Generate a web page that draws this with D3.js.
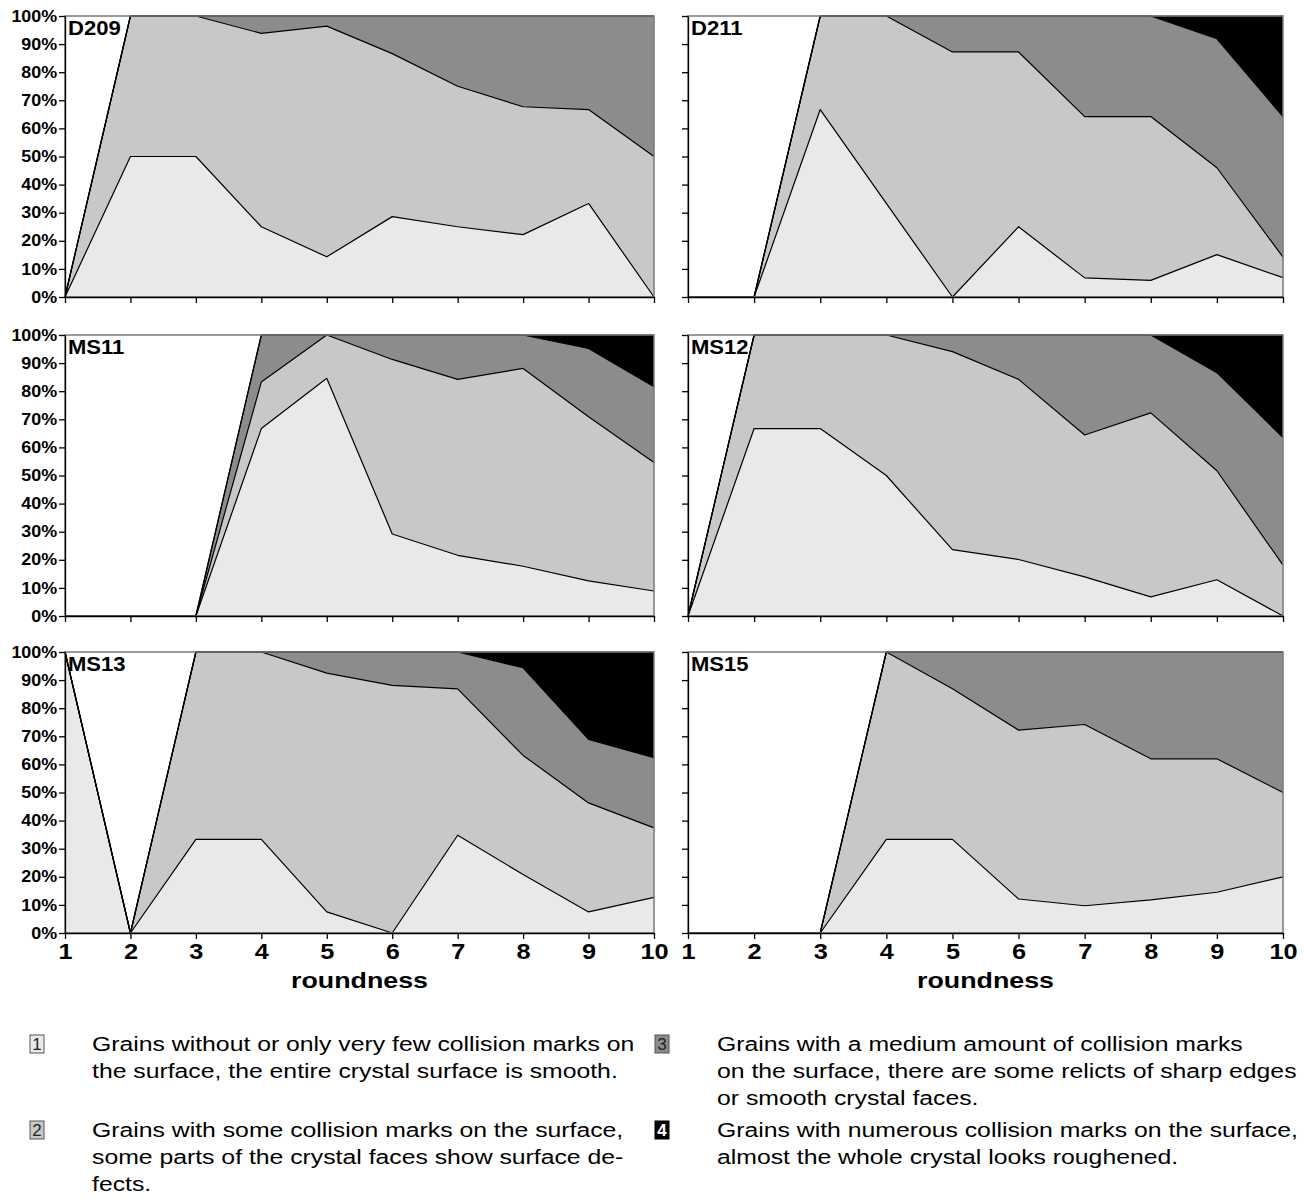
<html>
<head>
<script src="https://cdn.jsdelivr.net/npm/d3@7"></script>
<style>
  body{margin:0;background:#fff;}
  svg{display:block;font-family:"Liberation Sans",Arial,sans-serif;}
  .axis path,.axis line{stroke:#000;stroke-width:1.3;}
  .axis text{fill:#000;font-weight:bold;font-family:"Liberation Sans",Arial,sans-serif;}
  .ylab text{font-size:16px;}
  .xlab text{font-size:22px;}
  .tline{fill:none;stroke:#000;stroke-width:1.2;stroke-linejoin:round;}
  .legend text{font-size:21px;}
</style>
</head>
<body>
<svg id="chart" width="1304" height="1203"></svg>
<script>

// roundness classes on the x axis, percent ticks on the y axis
var roundness = [1, 2, 3, 4, 5, 6, 7, 8, 9, 10];
var yTicks = [0, 10, 20, 30, 40, 50, 60, 70, 80, 90, 100];
var classKeys = ["c1", "c2", "c3", "c4"];
var classColors = ["#e9e9e9", "#c7c8c7", "#8c8c8c", "#000000"];
var sampleNames = ["D209", "D211", "MS11", "MS12", "MS13", "MS15"];

// percentages of grains per surface class (1..4) at each roundness
var d209 = [
  [0, 50, 50, 25, 14.3, 28.6, 25, 22.2, 33.3, 0],
  [0, 50, 50, 68.8, 82.1, 58.0, 50, 45.5, 33.4, 50],
  [0, 0, 0, 6.2, 3.6, 13.4, 25, 32.3, 33.3, 50],
  [0, 0, 0, 0, 0, 0, 0, 0, 0, 0]
];
var d211 = [
  [0, 0, 66.7, 33.3, 0, 25, 6.8, 5.9, 15.1, 6.9],
  [0, 0, 33.3, 66.7, 87.2, 62.2, 57.4, 58.3, 30.9, 7.3],
  [0, 0, 0, 0, 12.8, 12.8, 35.8, 35.8, 45.9, 50],
  [0, 0, 0, 0, 0, 0, 0, 0, 8.1, 35.8]
];
var ms11 = [
  [0, 0, 0, 66.7, 84.6, 29.2, 21.6, 17.7, 12.5, 8.9],
  [0, 0, 0, 16.6, 15.4, 62.1, 62.6, 70.4, 58.4, 45.7],
  [0, 0, 0, 16.7, 0, 8.7, 15.8, 11.9, 24.3, 27],
  [0, 0, 0, 0, 0, 0, 0, 0, 4.8, 18.4]
];
var ms12 = [
  [0, 66.7, 66.7, 50, 23.6, 20.1, 13.9, 6.8, 12.9, 0],
  [0, 33.3, 33.3, 50, 70.5, 64.1, 50.5, 65.5, 38.8, 18.1],
  [0, 0, 0, 0, 5.9, 15.8, 35.6, 27.7, 34.9, 45.4],
  [0, 0, 0, 0, 0, 0, 0, 0, 13.4, 36.5]
];
var ms13 = [
  [100, 0, 33.3, 33.3, 7.5, 0, 34.8, 20.8, 7.5, 12.7],
  [0, 0, 66.7, 66.7, 85, 88.1, 52.1, 42.4, 38.8, 24.7],
  [0, 0, 0, 0, 7.5, 11.9, 13.1, 31.2, 22.6, 25],
  [0, 0, 0, 0, 0, 0, 0, 5.6, 31.1, 37.6]
];
var ms15 = [
  [0, 0, 0, 33.3, 33.3, 12.1, 9.7, 11.8, 14.5, 20],
  [0, 0, 0, 66.7, 53.6, 60.1, 64.5, 50.2, 47.5, 30],
  [0, 0, 0, 0, 13.1, 27.8, 25.8, 38, 38, 50],
  [0, 0, 0, 0, 0, 0, 0, 0, 0, 0]
];
var sampleValues = [d209, d211, ms11, ms12, ms13, ms15];

var legendLeft = [
  {box: 1, lines: ["Grains without or only very few collision marks on", "the surface, the entire crystal surface is smooth."]},
  {box: 2, lines: ["Grains with some collision marks on the surface,", "some parts of the crystal faces show surface de-", "fects."]}
];
var legendRight = [
  {box: 3, lines: ["Grains with a medium amount of collision marks", "on the surface, there are some relicts of sharp edges", "or smooth crystal faces."]},
  {box: 4, lines: ["Grains with numerous collision marks on the surface,", "almost the whole crystal looks roughened."]}
];

var svg = d3.select("#chart");

var cols = [[65, 654], [688, 1283]];
var rows = [[16, 297], [335, 616], [652, 933]];

sampleNames.forEach(function(name, i){
  var col = i % 2, row = Math.floor(i / 2);
  var vals = sampleValues[i];

  var x = d3.scalePoint().domain(roundness).range(cols[col]);
  var y = d3.scaleLinear().domain([0, 100]).range([rows[row][1], rows[row][0]]);

  var table = roundness.map(function(r, j){
    var o = {r: r};
    classKeys.forEach(function(k, c){ o[k] = vals[c][j]; });
    return o;
  });
  var stacked = d3.stack().keys(classKeys)(table);

  var area = d3.area()
    .x(function(d){ return x(d.data.r); })
    .y0(function(d){ return y(d[0]); })
    .y1(function(d){ return y(d[1]); });
  var line = d3.line()
    .x(function(d){ return x(d.data.r); })
    .y(function(d){ return y(d[1]); });

  var g = svg.append("g").attr("class", "panel");

  g.append("rect")
    .attr("x", cols[col][0]).attr("y", rows[row][0])
    .attr("width", cols[col][1] - cols[col][0])
    .attr("height", rows[row][1] - rows[row][0])
    .attr("fill", "#fff");

  g.selectAll("path.area").data(stacked).enter().append("path")
    .attr("class", "area")
    .attr("fill", function(d, k){ return classColors[k]; })
    .attr("d", area);

  g.selectAll("path.tline").data(stacked).enter().append("path")
    .attr("class", "tline")
    .attr("d", line);

  // plot area frame
  g.append("rect")
    .attr("x", cols[col][0]).attr("y", rows[row][0])
    .attr("width", cols[col][1] - cols[col][0])
    .attr("height", rows[row][1] - rows[row][0])
    .attr("fill", "none")
    .attr("stroke", "#7a7a7a")
    .attr("stroke-width", 1.5);

  var yAxis = d3.axisLeft(y).tickValues(yTicks).tickSize(6).tickSizeOuter(0).tickPadding(1)
    .tickFormat(col === 0 ? function(d){ return d + "%"; } : function(){ return ""; });
  g.append("g")
    .attr("class", "axis ylab")
    .attr("transform", "translate(" + cols[col][0] + ",0)")
    .call(yAxis)
    .selectAll("text").attr("transform", "scale(1.12,1)");

  var xAxis = d3.axisBottom(x).tickSize(6).tickSizeOuter(0).tickPadding(4)
    .tickFormat(row === 2 ? function(d){ return d; } : function(){ return ""; });
  g.append("g")
    .attr("class", "axis xlab")
    .attr("transform", "translate(0," + rows[row][1] + ")")
    .call(xAxis)
    .selectAll("text").attr("transform", "scale(1.15,1)");

  g.append("text")
    .attr("transform", "translate(" + (cols[col][0] + 3) + "," + (rows[row][0] + 19) + ") scale(1.05,1)")
    .style("font-size", "21px")
    .style("font-weight", "bold")
    .text(name);

  if (row === 2) {
    g.append("text")
      .attr("transform", "translate(" + ((cols[col][0] + cols[col][1]) / 2) + ",988) scale(1.22,1)")
      .attr("text-anchor", "middle")
      .style("font-size", "22px")
      .style("font-weight", "bold")
      .text("roundness");
  }
});

// legend
var leg = svg.append("g").attr("class", "legend");

function legendBlock(items, boxX, textX, baselines){
  var li = 0;
  items.forEach(function(it){
    var base = baselines[li];
    var b = leg.append("g").attr("transform", "translate(" + boxX + "," + (base - 16) + ")");
    b.append("rect")
      .attr("width", 14).attr("height", 18)
      .attr("fill", classColors[it.box - 1])
      .attr("stroke", it.box === 4 ? "#000" : "#555")
      .attr("stroke-width", 1);
    b.append("text")
      .attr("x", 7).attr("y", 15)
      .attr("text-anchor", "middle")
      .style("font-size", "17px")
      .style("font-weight", it.box === 4 ? "bold" : "normal")
      .style("fill", it.box === 4 ? "#fff" : "#222")
      .text(it.box);
    it.lines.forEach(function(t){
      leg.append("text")
        .attr("transform", "translate(" + textX + "," + baselines[li] + ") scale(1.18,1)")
        .style("fill", "#000")
        .text(t);
      li++;
    });
  });
}

legendBlock(legendLeft, 30, 92, [1051, 1078, 1137, 1164, 1191]);
legendBlock(legendRight, 655, 717, [1051, 1078, 1105, 1137, 1164]);

</script>
</body>
</html>
